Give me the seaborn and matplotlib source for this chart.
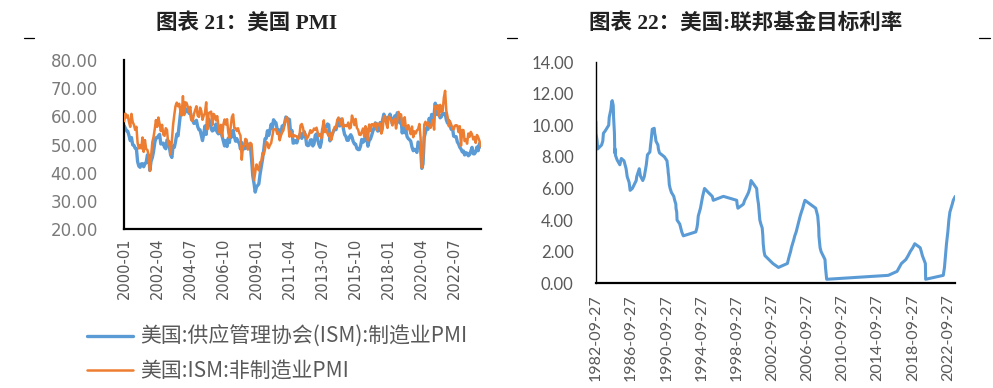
import matplotlib
matplotlib.use("Agg")

import numpy as np
import pandas as pd
import matplotlib.pyplot as plt
from matplotlib.lines import Line2D
import seaborn as sns

# -----------------------------
# Data: US ISM PMI, monthly 2000-01 .. 2024-04
# -----------------------------

pmi_months = pd.date_range("2000-01-01", "2024-04-01", freq="MS")

ism_mfg = [
    56.7, 55.8, 54.9, 54.7, 53.2, 51.4, 52.5, 49.9, 49.7, 48.7, 48.5, 43.9,
    42.3, 41.9, 43.1, 43.2, 42.1, 43.2, 43.5, 46.3, 46.2, 40.8, 44.1, 45.3,
    47.5, 50.7, 52.4, 52.4, 53.1, 53.6, 50.2, 50.3, 50.5, 49.0, 48.5, 51.6,
    51.3, 48.8, 46.3, 45.4, 49.4, 49.0, 51.0, 53.7, 53.1, 57.0, 61.0, 63.4,
    61.4, 61.4, 61.5, 62.4, 62.8, 61.1, 61.9, 59.0, 58.5, 57.5, 57.8, 58.6,
    56.4, 55.3, 55.2, 53.3, 51.4, 53.8, 56.6, 53.6, 59.0, 59.1, 58.1, 55.6,
    54.8, 55.8, 55.2, 57.3, 54.4, 53.8, 54.7, 54.5, 52.9, 51.2, 49.5, 51.4,
    49.3, 52.3, 50.7, 54.7, 52.7, 55.0, 52.9, 51.2, 52.1, 51.0, 50.6, 48.4,
    50.7, 48.3, 48.6, 48.6, 49.6, 50.2, 50.0, 49.9, 44.8, 38.9, 36.2, 33.1,
    34.9, 35.5, 36.0, 39.5, 42.0, 44.8, 48.1, 52.0, 52.2, 54.9, 53.2, 54.9,
    57.2, 55.8, 58.8, 58.1, 57.7, 55.3, 55.1, 55.2, 54.2, 56.6, 56.4, 57.5,
    59.8, 59.3, 59.1, 58.9, 53.7, 55.0, 50.5, 50.6, 51.4, 50.6, 52.2, 53.1,
    54.0, 52.2, 53.0, 54.6, 53.2, 49.9, 49.6, 49.8, 51.6, 51.7, 49.5, 50.2,
    53.3, 53.8, 51.7, 50.0, 49.0, 50.9, 55.4, 55.7, 56.2, 56.4, 57.3, 57.0,
    51.3, 53.2, 53.7, 54.9, 55.4, 55.3, 57.1, 59.0, 56.6, 59.0, 58.7, 55.5,
    53.5, 52.9, 51.5, 51.5, 52.8, 53.5, 52.7, 51.1, 50.2, 50.1, 48.6, 48.2,
    48.2, 49.5, 51.8, 50.8, 51.3, 53.2, 52.6, 49.4, 51.5, 51.9, 53.2, 54.7,
    56.0, 57.7, 57.2, 54.8, 54.9, 57.8, 56.3, 58.8, 60.8, 58.7, 58.2, 59.7,
    59.1, 60.8, 59.3, 57.3, 58.7, 60.2, 58.1, 61.3, 59.8, 57.7, 59.3, 54.1,
    56.6, 54.2, 55.3, 52.8, 52.1, 51.7, 51.2, 49.1, 47.8, 48.3, 48.1, 47.2,
    50.9, 50.1, 49.1, 41.5, 43.1, 52.6, 54.2, 56.0, 55.4, 59.3, 57.5, 60.7,
    58.7, 60.8, 64.7, 60.7, 61.2, 60.6, 59.5, 59.9, 61.1, 60.8, 61.1, 58.8,
    57.6, 58.6, 57.1, 55.4, 56.1, 53.0, 52.8, 52.8, 50.9, 50.2, 49.0, 48.4,
    47.4, 47.7, 46.3, 47.1, 46.9, 46.0, 46.4, 47.6, 49.0, 46.7, 46.7, 47.4,
    49.1, 47.8, 50.3, 49.2,
]

ism_nonmfg = [
    58.3, 61.0, 59.6, 60.4, 58.0, 56.3, 60.9, 58.0, 57.0, 55.2, 56.3, 50.6,
    48.6, 49.8, 48.6, 52.5, 47.4, 51.6, 48.4, 48.1, 46.2, 40.6, 45.8, 50.8,
    52.7, 55.6, 58.7, 56.3, 59.6, 57.4, 54.8, 57.0, 53.5, 53.1, 55.8, 55.2,
    50.1, 51.0, 46.6, 51.3, 56.9, 60.6, 63.7, 64.9, 63.6, 64.5, 61.8, 60.3,
    67.2, 60.5, 65.0, 64.8, 63.4, 61.6, 63.4, 58.6, 58.4, 60.8, 62.3, 63.6,
    60.3, 59.8, 63.1, 62.0, 58.8, 60.3, 61.2, 65.0, 55.4, 61.2, 61.4, 61.7,
    56.9, 60.9, 60.3, 58.6, 60.1, 56.6, 54.2, 57.0, 52.9, 57.1, 58.9, 57.1,
    59.0, 54.3, 52.4, 56.0, 59.7, 60.7, 55.8, 55.8, 54.8, 55.8, 54.1, 53.2,
    44.6, 49.3, 49.6, 52.0, 51.7, 48.2, 49.5, 50.6, 50.2, 44.4, 37.3, 40.1,
    42.9, 41.6, 40.8, 43.7, 44.0, 47.0, 46.4, 48.4, 50.9, 50.6, 48.7, 49.8,
    50.5, 53.0, 55.4, 55.4, 55.4, 53.8, 54.3, 51.5, 53.2, 54.3, 55.0, 57.1,
    59.4, 59.7, 57.3, 52.8, 54.6, 53.3, 52.7, 53.3, 53.0, 52.9, 52.0, 52.6,
    56.8, 57.3, 56.0, 53.5, 53.7, 52.1, 52.6, 53.7, 55.1, 54.2, 54.7, 55.7,
    55.2, 56.0, 54.4, 53.1, 53.7, 52.2, 56.0, 58.6, 54.4, 55.4, 53.9, 53.0,
    54.0, 51.6, 53.1, 55.2, 56.3, 56.0, 58.7, 59.6, 58.6, 57.1, 59.3, 56.2,
    56.7, 56.9, 56.5, 57.8, 55.7, 56.0, 60.3, 59.0, 56.9, 59.1, 55.9, 55.3,
    53.5, 53.4, 54.5, 55.7, 52.9, 56.5, 55.5, 51.4, 57.1, 54.8, 57.2, 57.2,
    56.5, 57.6, 55.2, 57.5, 56.9, 57.4, 53.9, 55.3, 59.8, 60.1, 57.4, 55.9,
    59.9, 59.5, 58.8, 56.8, 58.6, 59.1, 55.7, 58.5, 61.6, 60.3, 60.7, 57.6,
    56.7, 59.7, 56.1, 55.5, 56.9, 55.1, 53.7, 56.4, 52.6, 54.7, 53.9, 55.0,
    55.5, 57.3, 52.5, 41.8, 45.4, 57.1, 58.1, 56.9, 57.8, 56.6, 55.9, 57.2,
    58.7, 55.3, 63.7, 62.7, 64.0, 60.1, 64.1, 61.7, 61.9, 66.7, 69.1, 62.0,
    59.9, 56.5, 58.3, 57.1, 55.9, 55.3, 56.7, 56.9, 56.7, 54.4, 56.5, 49.6,
    55.2, 55.1, 51.2, 51.9, 50.3, 53.9, 52.7, 54.5, 53.6, 51.8, 52.7, 50.6,
    53.4, 52.6, 51.4, 49.4,
]

pmi_names = ["美国:供应管理协会(ISM):制造业PMI", "美国:ISM:非制造业PMI"]
pmi_ticks = ["2000-01", "2002-04", "2004-07", "2006-10", "2009-01", "2011-04",
             "2013-07", "2015-10", "2018-01", "2020-04", "2022-07"]

# -----------------------------
# Data: Fed funds target rate (change dates)
# -----------------------------

fed_dates = [
    "1982-09-27", "1982-10-01", "1982-10-07", "1982-11-19", "1982-12-14",
    "1983-05-25", "1983-07-14", "1983-08-10", "1983-10-04",
    "1984-03-15", "1984-04-06", "1984-06-14", "1984-07-19", "1984-08-09",
    "1984-09-20", "1984-10-04", "1984-11-08", "1984-11-23", "1984-12-07",
    "1984-12-20", "1985-03-01", "1985-06-20", "1985-08-20", "1985-12-10",
    "1986-03-07", "1986-04-21", "1986-07-11", "1986-08-21", "1986-11-20",
    "1987-04-30", "1987-05-22", "1987-09-04", "1987-10-22", "1987-11-04",
    "1988-01-28", "1988-03-30", "1988-05-25", "1988-06-22", "1988-08-09",
    "1988-11-17", "1988-12-15", "1989-01-05", "1989-02-24", "1989-05-17",
    "1989-06-06", "1989-07-07", "1989-07-27", "1989-10-18", "1989-11-06",
    "1989-12-20", "1990-07-13", "1990-10-29", "1990-11-14", "1990-12-07",
    "1990-12-18", "1991-01-09", "1991-02-01", "1991-03-08", "1991-04-30",
    "1991-08-06", "1991-09-13", "1991-10-31", "1991-11-06", "1991-12-06",
    "1991-12-20", "1992-04-09", "1992-07-02", "1992-09-04",
    "1994-02-04", "1994-03-22", "1994-04-18", "1994-05-17", "1994-08-16",
    "1994-11-15", "1995-02-01", "1995-07-06", "1995-12-19", "1996-01-31",
    "1997-03-25", "1998-09-29", "1998-10-15", "1998-11-17",
    "1999-06-30", "1999-08-24", "1999-11-16", "2000-02-02", "2000-03-21",
    "2000-05-16", "2001-01-03", "2001-01-31", "2001-03-20", "2001-04-18",
    "2001-05-15", "2001-06-27", "2001-08-21", "2001-09-17", "2001-10-02",
    "2001-11-06", "2001-12-11", "2002-11-06", "2003-06-25",
    "2004-06-30", "2004-08-10", "2004-09-21", "2004-11-10", "2004-12-14",
    "2005-02-02", "2005-03-22", "2005-05-03", "2005-06-30", "2005-08-09",
    "2005-09-20", "2005-11-01", "2005-12-13", "2006-01-31", "2006-03-28",
    "2006-05-10", "2006-06-29", "2007-09-18", "2007-10-31", "2007-12-11",
    "2008-01-22", "2008-01-30", "2008-03-18", "2008-04-30", "2008-10-08",
    "2008-10-29", "2008-12-16", "2015-12-16", "2016-12-14", "2017-03-15",
    "2017-06-14", "2017-12-13", "2018-03-21", "2018-06-13", "2018-09-26",
    "2018-12-19", "2019-07-31", "2019-09-18", "2019-10-30", "2020-03-03",
    "2020-03-15", "2022-03-16", "2022-05-04", "2022-06-15", "2022-07-27",
    "2022-09-21", "2022-11-02", "2022-12-14", "2023-02-01", "2023-03-22",
    "2023-05-03", "2023-07-26",
]

fed_rate = [
    10.25, 10.00, 9.50, 9.00, 8.50,
    8.75, 9.00, 9.50, 9.60,
    10.00, 10.50, 11.00, 11.50, 11.56,
    11.25, 10.50, 9.50, 8.25, 8.50,
    8.10, 7.80, 7.50, 7.90, 7.75,
    7.25, 6.75, 6.38, 5.88, 6.00,
    6.50, 6.75, 7.25, 6.80, 6.75,
    6.50, 6.75, 7.25, 7.50, 8.13,
    8.31, 8.75, 9.00, 9.75, 9.81,
    9.50, 9.25, 9.00, 8.75, 8.50,
    8.25, 8.00, 7.75, 7.50, 7.25,
    7.00, 6.75, 6.25, 6.00, 5.75,
    5.50, 5.25, 5.00, 4.75, 4.50,
    4.00, 3.75, 3.25, 3.00,
    3.25, 3.50, 3.75, 4.25, 4.75,
    5.50, 6.00, 5.75, 5.50, 5.25,
    5.50, 5.25, 5.00, 4.75,
    5.00, 5.25, 5.50, 5.75, 6.00,
    6.50, 6.00, 5.50, 5.00, 4.50,
    4.00, 3.75, 3.50, 3.00, 2.50,
    2.00, 1.75, 1.25, 1.00,
    1.25, 1.50, 1.75, 2.00, 2.25,
    2.50, 2.75, 3.00, 3.25, 3.50,
    3.75, 4.00, 4.25, 4.50, 4.75,
    5.00, 5.25, 4.75, 4.50, 4.25,
    3.50, 3.00, 2.25, 2.00, 1.50,
    1.00, 0.25, 0.50, 0.75, 1.00,
    1.25, 1.50, 1.75, 2.00, 2.25,
    2.50, 2.25, 2.00, 1.75, 1.25,
    0.25, 0.50, 1.00, 1.75, 2.50,
    3.25, 4.00, 4.50, 4.75, 5.00,
    5.25, 5.50,
]

fed_ticks = ["1982-09-27", "1986-09-27", "1990-09-27", "1994-09-27",
             "1998-09-27", "2002-09-27", "2006-09-27", "2010-09-27",
             "2014-09-27", "2018-09-27", "2022-09-27"]

# -----------------------------
# Frames
# -----------------------------

pmi_df = pd.DataFrame({
    "date": list(pmi_months) * 2,
    "value": ism_mfg + ism_nonmfg,
    "series": [pmi_names[0]] * len(ism_mfg) + [pmi_names[1]] * len(ism_nonmfg),
})

fed_df = pd.DataFrame({
    "date": pd.to_datetime(fed_dates),
    "rate": fed_rate,
})

# -----------------------------
# Style
# -----------------------------

sns.set_style("white")
plt.rcParams["font.family"] = ["DejaVu Sans", "Noto Sans CJK SC"]

blue = "#5B9BD5"
orange = "#ED7D31"
cjk = ["Noto Sans CJK SC", "DejaVu Sans"]
title_font = ["Liberation Serif", "Noto Sans CJK SC"]

fig = plt.figure(figsize=(9.93, 3.88), dpi=100)

ax1 = fig.add_axes([0.125, 0.410, 0.359, 0.435])
ax2 = fig.add_axes([0.600, 0.270, 0.362, 0.570])

# -----------------------------
# Left: PMI
# -----------------------------

sns.lineplot(
    data=pmi_df, x="date", y="value", hue="series",
    palette=[blue, orange], linewidth=1.8, legend=False, ax=ax1
)
ax1.lines[0].set_linewidth(2.4)
ax1.lines[0].set_zorder(2)
ax1.lines[1].set_zorder(3)

ax1.set_xlim(pmi_months[0], pmi_months[-1])
ax1.set_ylim(20, 80)
ax1.set_yticks(np.arange(20, 81, 10))
ax1.set_yticklabels([f"{v:.2f}" for v in np.arange(20, 81, 10)],
                    fontsize=12, color="#7a7a7a")
ax1.set_xticks(pd.to_datetime(pmi_ticks))
ax1.set_xticklabels(pmi_ticks, rotation=90, fontsize=10.5, color="#595959")
ax1.set_xlabel("")
ax1.set_ylabel("")
ax1.tick_params(length=0, pad=6)
ax1.tick_params(axis="y", pad=19)
for side in ["top", "right"]:
    ax1.spines[side].set_visible(False)
for side in ["left", "bottom"]:
    ax1.spines[side].set_color("black")
    ax1.spines[side].set_linewidth(1.6)

handles = [Line2D([0], [0], color=blue, lw=2.4),
           Line2D([0], [0], color=orange, lw=1.8)]
fig.legend(
    handles, pmi_names, loc="upper left",
    bbox_to_anchor=(68 / 993, 1 - 307 / 388),
    frameon=False, handlelength=2.2, handletextpad=0.35, labelspacing=0.62,
    prop={"family": cjk, "size": 15}, labelcolor="#595959",
)

fig.text(247 / 993, 1 - 23 / 388, "图表 21：美国 PMI", ha="center", va="center",
         fontsize=15.5, fontweight="bold", family=title_font, color="#222222")

# -----------------------------
# Right: Fed funds target
# -----------------------------

sns.lineplot(data=fed_df, x="date", y="rate", color=blue, linewidth=2.2, ax=ax2)

ax2.set_xlim(fed_df["date"].iloc[0], fed_df["date"].iloc[-1])
ax2.set_ylim(0, 14)
ax2.set_yticks(np.arange(0, 15, 2))
ax2.set_yticklabels([f"{v:.2f}" for v in np.arange(0, 15, 2)],
                    fontsize=12, color="#595959", family="Lato")
ax2.set_xticks(pd.to_datetime(fed_ticks))
ax2.set_xticklabels(fed_ticks, rotation=90, fontsize=11.5, color="#595959",
                    family="Lato")
ax2.set_xlabel("")
ax2.set_ylabel("")
ax2.tick_params(length=0, pad=8)
ax2.tick_params(axis="y", pad=16)
for side in ["top", "right"]:
    ax2.spines[side].set_visible(False)
ax2.spines["left"].set_color("black")
ax2.spines["left"].set_linewidth(1.0)
ax2.spines["bottom"].set_color("black")
ax2.spines["bottom"].set_linewidth(1.6)

fig.text(746 / 993, 1 - 23 / 388, "图表 22：美国:联邦基金目标利率", ha="center",
         va="center", fontsize=15.5, fontweight="bold", family=title_font,
         color="#222222")

# small header dashes
for x0, x1 in [(24, 34), (507, 517), (979, 990)]:
    fig.add_artist(Line2D([x0 / 993, x1 / 993], [1 - 38 / 388] * 2,
                          color="black", lw=0.9))

plt.savefig("out.png", dpi=100)
plt.close()
